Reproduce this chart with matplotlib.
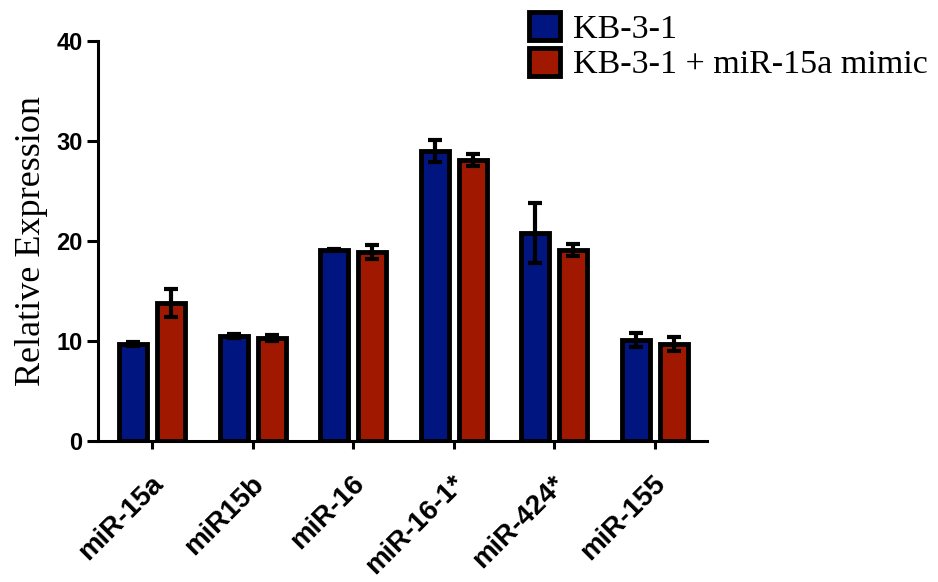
import numpy as np
import matplotlib as mlp
mlp.use('Agg')
import matplotlib.pyplot as plt
import matplotlib.transforms as mtrans
from matplotlib.patches import Patch

# ----data---------------------------
categories = ['miR-15a', 'miR15b', 'miR-16', 'miR-16-1*', 'miR-424*', 'miR-155']
kb_mean = [9.7, 10.5, 19.1, 29.0, 20.8, 10.1]
kb_err = [0.2, 0.2, 0.1, 1.1, 3.0, 0.7]
mimic_mean = [13.8, 10.3, 18.9, 28.1, 19.1, 9.7]
mimic_err = [1.4, 0.3, 0.7, 0.6, 0.6, 0.7]
series_names = ['KB-3-1', 'KB-3-1 + miR-15a mimic']
y_ticks = [0, 10, 20, 30, 40]

blue = '#001580'
red = '#A01800'

fig = plt.figure(figsize=(9.38, 5.82), dpi=100)
ax = fig.add_axes([0.1045, 0.2423, 0.6492, 0.6873])

x = np.arange(len(categories))
w = 0.28
off = 0.19
for xs, vals, errs, col in [(x - off, kb_mean, kb_err, blue), (x + off, mimic_mean, mimic_err, red)]:
    ax.bar(xs, vals, width=w, color=col, edgecolor='black', linewidth=3.5, zorder=2)
    ax.errorbar(xs, vals, yerr=errs, fmt='none', ecolor='black', elinewidth=3,
                capsize=5, capthick=3, zorder=3)

ax.set_xlim(-0.54, 5.52)
ax.set_ylim(0, 40)
ax.set_yticks(y_ticks)
ax.set_yticklabels([str(t) for t in y_ticks], fontsize=17, fontweight='bold', family='Liberation Sans')
ax.set_xticks(x)
ax.set_xticklabels(categories, rotation=45, ha='right', va='center', rotation_mode='anchor',
                   fontsize=20, fontweight='bold', family='Liberation Sans')
ax.tick_params(axis='y', length=8, width=2.2, direction='out', pad=3)
ax.tick_params(axis='x', length=6, width=2.2, direction='out', pad=22)
shift = mtrans.ScaledTranslation(0.07, 0, fig.dpi_scale_trans)
for lab in ax.get_xticklabels():
    lab.set_transform(lab.get_transform() + shift)
for s in ['top', 'right']:
    ax.spines[s].set_visible(False)
for s in ['left', 'bottom']:
    ax.spines[s].set_linewidth(2.2)
ax.set_ylabel('Relative Expression', fontsize=26, family='Liberation Serif', labelpad=6)

handles = [Patch(facecolor=blue, edgecolor='black', linewidth=3.5),
           Patch(facecolor=red, edgecolor='black', linewidth=3.5)]
fig.legend(handles, series_names, loc='upper left', bbox_to_anchor=(529 / 938, 1 - 12 / 582),
           frameon=False, prop={'family': 'Liberation Serif', 'size': 24.5},
           handlelength=0.9, handleheight=0.9, handletextpad=0.4, labelspacing=0.08,
           borderpad=0, borderaxespad=0)

fig.savefig('out.png', dpi=100)
